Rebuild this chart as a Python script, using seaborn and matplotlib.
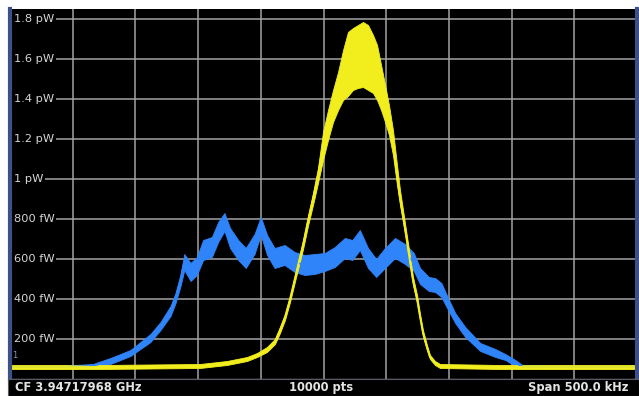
import pandas as pd
import matplotlib
matplotlib.use("Agg")
import matplotlib.pyplot as plt
import seaborn as sns
from matplotlib.patches import Rectangle

# offsets from the centre frequency (kHz), power in fW
# blue trace: lower / upper edge of the noisy band
freq_blue = [-250, -210, -184, -170, -154, -138, -130, -122, -118, -114, -111, -106, -101,
             -96, -89, -84, -79, -74.5, -68, -62, -55, -50, -45, -39, -31, -23, -15, -7,
             1, 9, 17, 23, 29, 35.5, 42, 49, 57, 65, 72, 77, 84, 89, 94, 99, 105, 113,
             125, 137, 145, 153, 159, 189, 250]
blue_low = [53, 53, 56, 75, 115, 185, 245, 315, 380, 465, 545, 490, 520,
            595, 610, 685, 740, 655, 595, 555, 625, 720, 620, 555, 570, 535, 520, 525,
            540, 560, 605, 595, 645, 555, 510, 555, 605, 575, 540, 475, 440, 435, 410, 350, 280, 210,
            140, 110, 95, 65, 54, 53, 53]
blue_high = [66, 66, 75, 105, 145, 225, 285, 365, 430, 525, 625, 580, 610,
             695, 710, 785, 830, 755, 695, 655, 725, 810, 720, 655, 670, 635, 620, 625,
             630, 660, 705, 695, 745, 655, 600, 655, 705, 675, 630, 555, 510, 505, 480, 410, 330, 260,
             180, 150, 125, 95, 68, 66, 66]

# yellow trace
freq_yellow = [-250, -178, -98.5, -77, -61, -53, -45.1, -38.7, -34.7, -30.7, -26.7, -21.1, -16.3,
               -12.4, -8.4, -4.4, -0.4, 3.6, 7.6, 11.6, 15.6, 19.5, 23.5, 27.5, 31.5, 35.5,
               39.5, 42.7, 45.9, 49.1, 52.2, 55.4, 58.6, 61.0, 63.4, 65.8, 68.2, 71.4, 74.6,
               77.0, 79.3, 82.5, 84.9, 88.9, 92.9, 140.8, 250]
yellow_low = [50, 50, 55, 70, 90, 110, 135, 175, 230, 295, 385, 530, 650,
              765, 870, 980, 1095, 1195, 1285, 1345, 1395, 1415, 1445, 1455, 1460, 1445,
              1430, 1395, 1345, 1285, 1220, 1120, 970, 870, 785, 695, 595, 470, 380,
              295, 215, 145, 100, 70, 55, 50, 50]
yellow_high = [70, 70, 75, 90, 110, 130, 160, 200, 260, 325, 415, 565, 695,
               815, 930, 1055, 1235, 1345, 1445, 1535, 1645, 1735, 1755, 1770, 1785, 1770,
               1720, 1670, 1570, 1470, 1370, 1245, 1070, 945, 845, 745, 645, 510, 420,
               325, 245, 170, 120, 90, 75, 70, 70]

grid_freqs = [-200, -150, -100, -50, 0, 50, 100, 150, 200]
level_ticks = [200, 400, 600, 800, 1000, 1200, 1400, 1600, 1800]
level_labels = ["200 fW", "400 fW", "600 fW", "800 fW", "1 pW", "1.2 pW", "1.4 pW", "1.6 pW", "1.8 pW"]
footer_left = "CF 3.94717968 GHz"
footer_mid = "10000 pts"
footer_right = "Span 500.0 kHz"

trace_colors = {"trace 2": "#2f84fa", "trace 1": "#f2ee1e"}


def build_frame(name, freq, low, high):
    rows = []
    for f, lo, hi in zip(freq, low, high):
        rows.append((name, f, lo))
        rows.append((name, f, hi))
    return pd.DataFrame(rows, columns=["trace", "freq", "power"])


df = pd.concat([build_frame("trace 2", freq_blue, blue_low, blue_high),
                build_frame("trace 1", freq_yellow, yellow_low, yellow_high)],
               ignore_index=True)

sns.set_theme(style="dark")
plt.rcParams["font.family"] = ["DejaVu Sans"]

fig = plt.figure(figsize=(6.39, 3.96), dpi=100, facecolor="white")
ax = fig.add_axes([10 / 639, 17 / 396, 627 / 639, 370 / 396])
ax.set_facecolor("black")

# min/max of the two edges gives the noise band, mean gives the line
sns.lineplot(data=df, x="freq", y="power", hue="trace", hue_order=["trace 2", "trace 1"],
             palette=trace_colors, estimator="mean", errorbar=("pi", 100),
             err_kws={"alpha": 1, "linewidth": 0.6}, linewidth=1.3, legend=False, ax=ax)

ax.set_xlim(-250, 250)
ax.set_ylim(0, 1850)
ax.set_xticks(grid_freqs)
ax.set_yticks(level_ticks)
ax.set_xticklabels([])
ax.set_yticklabels([])
ax.tick_params(length=0)
ax.set_xlabel("")
ax.set_ylabel("")
ax.set_axisbelow(True)
ax.grid(True, color="#a2a2a2", linewidth=1.1)

for s in ["left", "right"]:
    ax.spines[s].set_visible(True)
    ax.spines[s].set_color("#3d5088")
    ax.spines[s].set_linewidth(3)
ax.spines["top"].set_visible(False)
ax.spines["bottom"].set_visible(True)
ax.spines["bottom"].set_color("#8a8a8a")
ax.spines["bottom"].set_linewidth(1)

# level labels sit inside the screen, covering the grid line
for val, lab in zip(level_ticks, level_labels):
    ax.text(0.0064, val, lab, transform=ax.get_yaxis_transform(), ha="left", va="center",
            color="#d6d6d6", fontsize=8.2,
            bbox=dict(facecolor="black", edgecolor="none", pad=1.2), zorder=4)

ax.text(0.003, 115, "1", transform=ax.get_yaxis_transform(), ha="left", va="center",
        color="#7f9cc0", fontsize=6, zorder=4)

# footer bar
fig.patches.append(Rectangle((8 / 639, 0), 631 / 639, 17 / 396, transform=fig.transFigure,
                             facecolor="black", edgecolor="#555a66", linewidth=0.8))
fig.text(15 / 639, 8.5 / 396, footer_left, ha="left", va="center", color="#e4e4e4",
         fontsize=8.3, fontweight="bold")
fig.text(321 / 639, 8.5 / 396, footer_mid, ha="center", va="center", color="#e4e4e4",
         fontsize=8.3, fontweight="bold")
fig.text(628 / 639, 8.5 / 396, footer_right, ha="right", va="center", color="#e4e4e4",
         fontsize=8.3, fontweight="bold")

fig.savefig("out.png", dpi=100, facecolor="white")
